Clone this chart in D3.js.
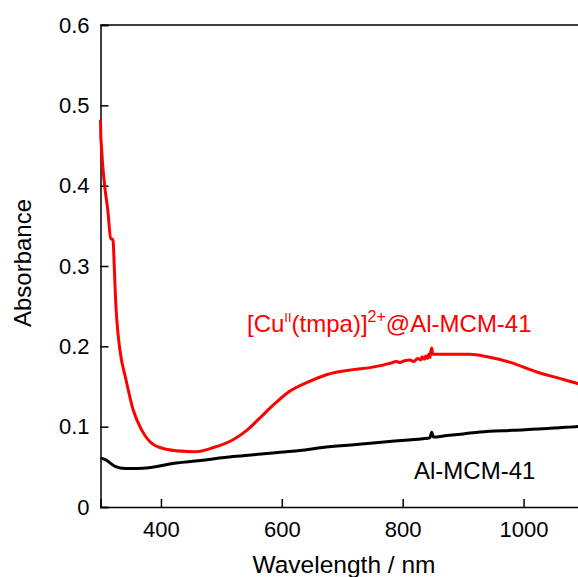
<!DOCTYPE html>
<html>
<head>
<meta charset="utf-8">
<script src="https://cdn.jsdelivr.net/npm/d3@7"></script>
<style>
  body { margin: 0; background: #fff; }
  svg { display: block; font-family: "Liberation Sans", Arial, Helvetica, sans-serif; }
</style>
</head>
<body>
<div id="chart"></div>
<script>
// Wavelength (nm) / absorbance pairs
const cuWavelength = [300, 300.5, 301, 303, 307, 312, 317, 320, 321, 323, 325, 327, 332, 342, 354, 368, 387, 411, 444, 456, 487, 520, 543, 564, 586, 609, 642, 675, 718, 746, 763, 779, 790, 795, 803, 812, 818, 825, 830, 832, 836, 838, 841, 843, 845, 846, 848, 850, 857, 880, 911, 940, 978, 1022, 1055, 1088, 1100];
const cuAbsorbance = [0.482, 0.46, 0.455, 0.432, 0.399, 0.37, 0.334, 0.333, 0.33, 0.295, 0.258, 0.233, 0.196, 0.159, 0.121, 0.096, 0.078, 0.0715, 0.069, 0.0687, 0.074, 0.084, 0.096, 0.111, 0.127, 0.142, 0.155, 0.165, 0.171, 0.1735, 0.176, 0.179, 0.181, 0.18, 0.182, 0.183, 0.181, 0.185, 0.183, 0.187, 0.184, 0.188, 0.185, 0.19, 0.186, 0.191, 0.198, 0.19, 0.19, 0.19, 0.19, 0.187, 0.18, 0.168, 0.161, 0.154, 0.151];

const mcmWavelength = [300, 308, 324, 341, 355, 361, 402, 410, 465, 519, 575, 597, 630, 667, 723, 778, 833, 845, 848, 851, 873, 900, 928, 983, 1039, 1090, 1100];
const mcmAbsorbance = [0.0612, 0.059, 0.0506, 0.0479, 0.0479, 0.0479, 0.0516, 0.053, 0.0578, 0.0628, 0.0665, 0.0682, 0.0703, 0.074, 0.0777, 0.0815, 0.0849, 0.086, 0.093, 0.087, 0.0889, 0.091, 0.0934, 0.0955, 0.0976, 0.1003, 0.1008];

const xTicks = [400, 600, 800, 1000];
const yTicks = [0, 0.1, 0.2, 0.3, 0.4, 0.5, 0.6];

const margin = { top: 25, right: -6, bottom: 70, left: 100.5 };
const width = 578 - margin.left - margin.right;
const height = 577 - margin.top - margin.bottom;

const svg = d3.select("#chart").append("svg")
  .attr("width", 578)
  .attr("height", 577);

const g = svg.append("g")
  .attr("transform", "translate(" + margin.left + "," + margin.top + ")");

const x = d3.scaleLinear().domain([300, 1100]).range([0, width]);
const y = d3.scaleLinear().domain([0, 0.6]).range([height, 0]);

// inward ticks
const xAxis = d3.axisBottom(x).tickValues(xTicks).tickSize(-8).tickPadding(14).tickFormat(d3.format("d"));
const yAxis = d3.axisLeft(y).tickValues(yTicks).tickSize(-8).tickPadding(11)
  .tickFormat(d => d === 0 ? "0" : d3.format(".1f")(d));

g.append("g")
  .attr("transform", "translate(0," + height + ")")
  .call(xAxis)
  .call(s => s.selectAll("text").attr("font-size", 22).attr("fill", "#000").attr("font-family", null))
  .call(s => s.selectAll("line,path").attr("stroke", "#000").attr("stroke-width", 1.5));

g.append("g")
  .call(yAxis)
  .call(s => s.selectAll("text").attr("font-size", 22).attr("fill", "#000").attr("font-family", null))
  .call(s => s.selectAll("line,path").attr("stroke", "#000").attr("stroke-width", 1.5));

// frame top and right
g.append("path")
  .attr("d", "M0,0H" + width + "V" + height)
  .attr("fill", "none")
  .attr("stroke", "#000")
  .attr("stroke-width", 1.5);

const line = d3.line()
  .curve(d3.curveMonotoneX)
  .x(d => x(d[0]))
  .y(d => y(d[1]));

g.append("path")
  .datum(mcmWavelength.map((w, i) => [w, mcmAbsorbance[i]]))
  .attr("d", line)
  .attr("fill", "none")
  .attr("stroke", "#000")
  .attr("stroke-width", 3)
  .attr("stroke-linejoin", "round");

g.append("path")
  .datum(cuWavelength.map((w, i) => [w, cuAbsorbance[i]]))
  .attr("d", line)
  .attr("fill", "none")
  .attr("stroke", "#ff0000")
  .attr("stroke-width", 3)
  .attr("stroke-linejoin", "round");

// series labels
const redLabel = svg.append("text")
  .attr("x", 247)
  .attr("y", 332)
  .attr("font-size", 24)
  .attr("fill", "#ff0000");
redLabel.append("tspan").text("[Cu");
redLabel.append("tspan").text("II").attr("font-size", 13).attr("dy", -10);
redLabel.append("tspan").text("(tmpa)]").attr("dy", 10);
redLabel.append("tspan").text("2+").attr("font-size", 16).attr("dy", -10);
redLabel.append("tspan").text("@Al-MCM-41").attr("dy", 10);

svg.append("text")
  .attr("x", 414)
  .attr("y", 479)
  .attr("font-size", 24)
  .attr("fill", "#000")
  .text("Al-MCM-41");

// axis titles
svg.append("text")
  .attr("x", 344)
  .attr("y", 573)
  .attr("text-anchor", "middle")
  .attr("font-size", 24.5)
  .text("Wavelength / nm");

svg.append("text")
  .attr("transform", "translate(31,263) rotate(-90)")
  .attr("text-anchor", "middle")
  .attr("font-size", 24)
  .text("Absorbance");
</script>
</body>
</html>
